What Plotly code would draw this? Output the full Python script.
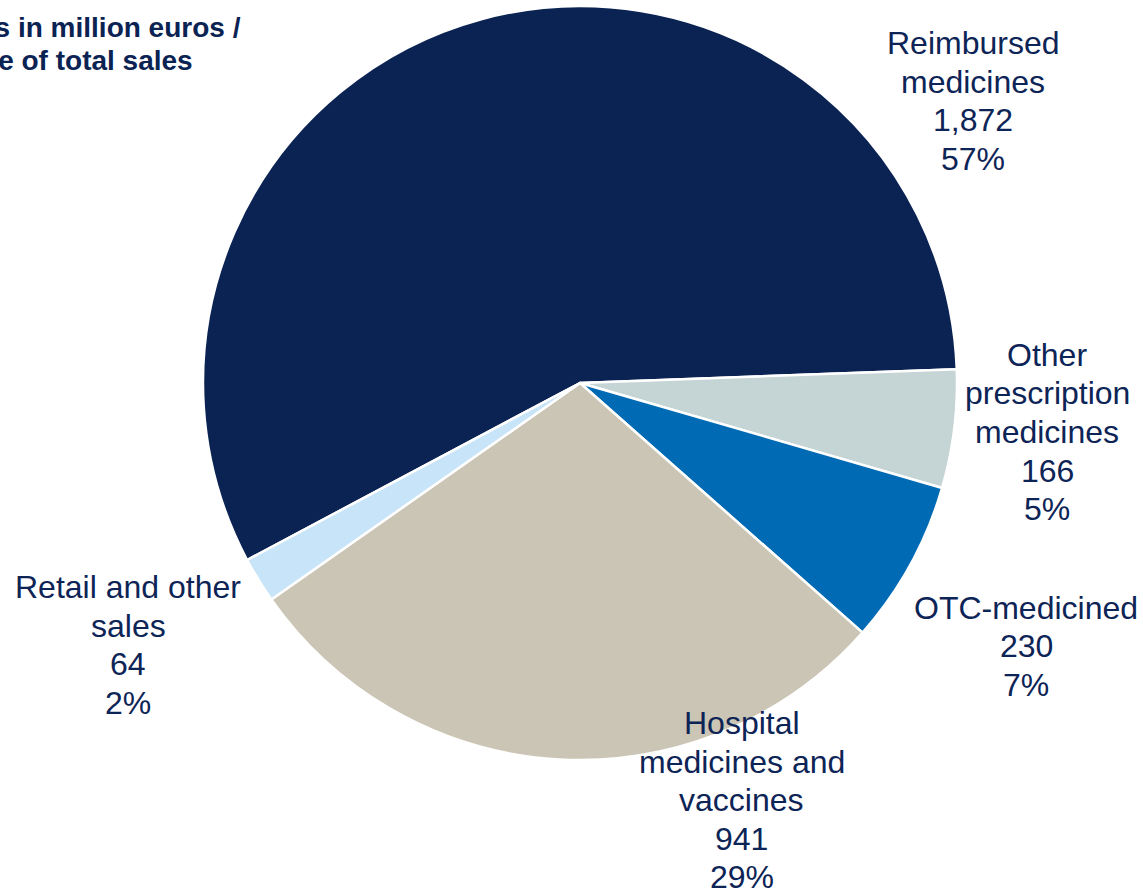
import plotly.graph_objects as go

# Data
categories = ["Reimbursed<br>medicines", "Other<br>prescription<br>medicines", "OTC-medicined",
              "Hospital<br>medicines and<br>vaccines", "Retail and other<br>sales"]
values = [1872, 166, 230, 941, 64]
shares = ["57%", "5%", "7%", "29%", "2%"]
colors = ["#0B2353", "#C5D4D4", "#006AB4", "#CBC5B5", "#C8E4F8"]
title_lines = ["Sales in million euros /", "share of total sales"]

# label block centre positions in pixels (layout)
label_px = [(973, 101), (1047, 432), (1026, 646), (742, 800), (128, 645)]
LINE_STEP = 38.5

W, H = 1143, 890
TEXT = "#0D2456"
FONT = "Liberation Sans, Arial, sans-serif"

fig = go.Figure(go.Pie(
    values=values,
    labels=[c.replace("<br>", " ") for c in categories],
    sort=False,
    direction="clockwise",
    rotation=242,
    marker=dict(colors=colors, line=dict(color="white", width=2.5)),
    textinfo="none",
    hoverinfo="label+value+percent",
    domain=dict(x=[203 / W, 957 / W], y=[1 - 760 / H, 1 - 6 / H]),
    showlegend=False,
))

annotations = []
for cat, v, s, (px, py) in zip(categories, values, shares, label_px):
    lines = cat.split("<br>") + [f"{v:,}", s]
    n = len(lines)
    for i, ln in enumerate(lines):
        yc = py + (i - (n - 1) / 2) * LINE_STEP
        annotations.append(dict(
            text=ln,
            x=px / W, y=1 - yc / H, xref="paper", yref="paper",
            xanchor="center", yanchor="middle", align="center",
            showarrow=False, borderpad=0,
            font=dict(family=FONT, size=32, color=TEXT),
        ))

title_right = [242, 194]
title_y = [28, 61]
for ln, xr, yc in zip(title_lines, title_right, title_y):
    annotations.append(dict(
        text=f"<b>{ln}</b>",
        x=xr / W, y=1 - yc / H, xref="paper", yref="paper",
        xanchor="right", yanchor="middle", align="right",
        showarrow=False, borderpad=0,
        font=dict(family=FONT, size=28, color="#0B2353"),
    ))

fig.update_layout(
    width=W, height=H,
    margin=dict(l=0, r=0, t=0, b=0),
    paper_bgcolor="white",
    plot_bgcolor="white",
    annotations=annotations,
)

fig.write_html("out.html", config={"displayModeBar": False},
               post_script="document.body.style.margin='0';")
